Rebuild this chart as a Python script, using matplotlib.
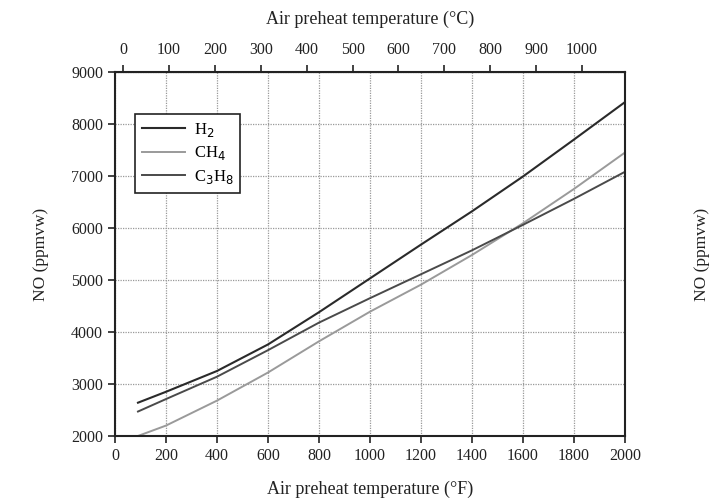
import matplotlib.pyplot as plt

plt.rcParams['font.family'] = ['Liberation Serif', 'DejaVu Serif']

# air preheat temperature (deg F) and NO (ppmvw)
temp_f = [90, 200, 400, 600, 800, 1000, 1200, 1400, 1600, 1800, 2000]
no_h2 = [2640, 2850, 3250, 3760, 4380, 5030, 5680, 6320, 6990, 7700, 8420]
no_ch4 = [2000, 2200, 2680, 3220, 3820, 4390, 4910, 5480, 6090, 6750, 7450]
no_c3h8 = [2470, 2710, 3140, 3650, 4180, 4650, 5110, 5570, 6060, 6560, 7080]

x_ticks = list(range(0, 2001, 200))
y_ticks = list(range(2000, 9001, 1000))
c_ticks = list(range(0, 1001, 100))

fig = plt.figure(figsize=(7.19, 5.04), dpi=100)
ax = fig.add_axes([0.16, 0.135, 0.709, 0.722])

ax.plot(temp_f, no_h2, color='#2a2a2a', lw=1.5, label='H$_2$')
ax.plot(temp_f, no_ch4, color='#9a9a9a', lw=1.4, label='CH$_4$')
ax.plot(temp_f, no_c3h8, color='#4a4a4a', lw=1.4, label='C$_3$H$_8$')

ax.set_xlim(0, 2000)
ax.set_ylim(2000, 9000)
ax.set_xticks(x_ticks)
ax.set_yticks(y_ticks)
ax.grid(True, color='#999999', linestyle=(0, (1, 1)), linewidth=0.9)
ax.tick_params(direction='out', length=5, width=1.2, colors='#222222',
               labelsize=11.5, right=True, labelright=True)
for s in ax.spines.values():
    s.set_linewidth(1.5)
    s.set_color('#222222')

ax.set_xlabel('Air preheat temperature (°F)', fontsize=13, color='#222222', labelpad=12)
ax.set_ylabel('NO (ppmvw)', fontsize=12.5, color='#222222', labelpad=16)

# right hand label, same orientation as the left one
ax2 = ax.twinx()
ax2.set_ylim(ax.get_ylim())
ax2.set_yticks([])
ax2.set_ylabel('NO (ppmvw)', fontsize=12.5, color='#222222', rotation=90, labelpad=50)
ax2.yaxis.set_label_position('right')
for s in ax2.spines.values():
    s.set_visible(False)

# top axis in Celsius
top = ax.secondary_xaxis('top', functions=(lambda f: (f - 32) / 1.8, lambda c: c * 1.8 + 32))
top.set_xticks(c_ticks)
top.tick_params(direction='out', length=5, width=1.2, colors='#222222', labelsize=11.5, pad=5)
top.set_xlabel('Air preheat temperature (°C)', fontsize=13, color='#222222', labelpad=13)

leg = ax.legend(loc='upper left', bbox_to_anchor=(0.04, 0.885), borderaxespad=0,
                fontsize=12, fancybox=False, framealpha=1, edgecolor='#222222',
                handlelength=2.6, handletextpad=0.5, borderpad=0.4, labelspacing=0.35)
leg.get_frame().set_linewidth(1.2)

plt.savefig('out.png', dpi=100)
plt.close()
